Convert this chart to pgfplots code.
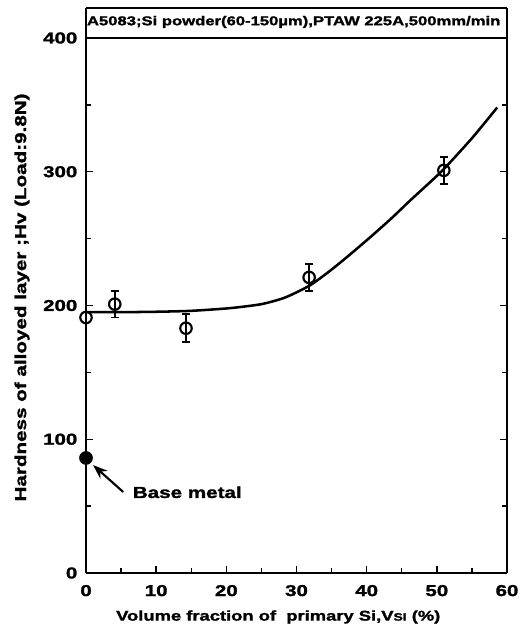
\documentclass[border=0pt]{standalone}
\usepackage{fontspec}
\setmainfont{Liberation Sans}[FakeStretch=1.3, BoldFeatures={FakeBold=1.6}]
\usepackage{pgfplots}
\pgfplotsset{compat=1.18}
\usetikzlibrary{arrows.meta}
\begin{document}
\begin{tikzpicture}
\useasboundingbox (-64.5pt,-45.75pt) rectangle (328.5pt,429.75pt);
\begin{axis}[
  scale only axis, width=315.75pt, height=423.75pt,
  xmin=0, xmax=60, ymin=0, ymax=422.4,
  xtick={0,10,...,60}, minor xtick={5,15,...,55},
  ytick={0,100,...,400}, minor ytick={50,150,...,350},
  xtick pos=bottom, ytick pos=both, tick align=inside,
  major tick length=5pt, minor tick length=4pt,
  separate axis lines,
  axis line style={line width=1.4pt},
  tick style={line width=1.1pt, black},
  clip=false,
  /pgf/number format/assume math mode=true,
  xticklabel style={font=\bfseries\fontsize{11.8}{12}\selectfont, yshift=-5.5pt},
  yticklabel style={font=\bfseries\fontsize{11.8}{12}\selectfont, xshift=-3pt},
  xlabel={Volume fraction of \ primary Si,V{\fontsize{8}{9}\selectfont SI} (\%)},
  xlabel style={font=\bfseries\fontsize{10.6}{12}\selectfont, at={(axis cs:27.4,-35.6)}, anchor=base},
  ylabel={Hardness of alloyed layer ;Hv (Load:9.8N)},
  ylabel style={font=\bfseries\fontsize{11.9}{13}\selectfont, at={(axis cs:-9.12,206)}, anchor=center},
]
\addplot[smooth, tension=0.4, line width=1.9pt] coordinates {
 (0,195) (5,195) (10,195.3) (15,196) (20.5,198) (25,201) (28.4,206) (31.9,215) (34.8,226)
 (37.6,238) (40.5,251) (43.5,265) (46.2,278.5) (49,292) (51,302) (55,325) (58.6,348)};
\addplot[only marks, mark=o, mark size=4.3pt, mark options={line width=1.6pt, fill=white},
  error bars/.cd, y dir=both, y explicit,
  error bar style={line width=1.4pt},
  error mark options={rotate=90, mark size=3pt, line width=1.4pt}]
  coordinates {(4.1,201) +- (0,10) (14.25,183) +- (0,10.5) (31.8,221) +- (0,10) (51,301) +- (0,10)};
\addplot[only marks, mark=o, mark size=4.3pt, mark options={line width=1.6pt, fill=white}]
  coordinates {(0,191)};
\addplot[only marks, mark=*, mark size=4.9pt] coordinates {(0,86)};
\draw[line width=1.4pt] (axis cs:0,400) -- (axis cs:60,400);
\node[anchor=base, font=\bfseries\fontsize{9.6}{11}\selectfont] at (axis cs:29.6,409.5)
  {A5083;Si powder(60-150\textmu m),PTAW 225A,500mm/min};
\draw[line width=1.6pt, -{Stealth[length=11pt, width=8pt]}] (axis cs:5.3,60.6) -- (axis cs:1.0,80.7);
\node[anchor=base west, font=\bfseries\fontsize{11.9}{13}\selectfont] at (axis cs:6.0,56.1) {Base metal};
\end{axis}
\end{tikzpicture}
\end{document}
